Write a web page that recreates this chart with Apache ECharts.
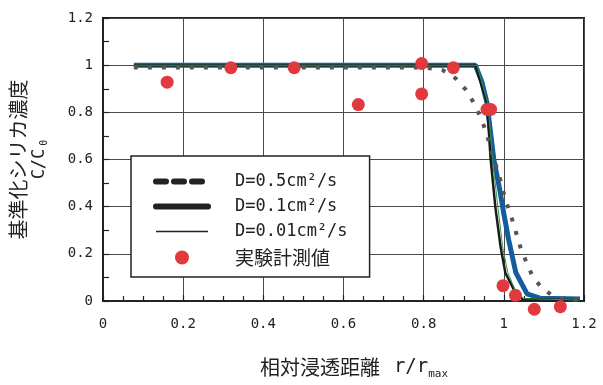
<!DOCTYPE html>
<html>
<head>
<meta charset="utf-8">
<script src="https://cdn.jsdelivr.net/npm/echarts@6/dist/echarts.min.js"></script>
<style>html,body{margin:0;padding:0;background:#fff}#c{width:603px;height:385px}</style>
</head>
<body>
<div id="c"></div>
<script>
// ---- data ----
const seriesNames = ['D=0.5cm²/s', 'D=0.1cm²/s', 'D=0.01cm²/s', '実験計測値'];

// D = 0.5 cm2/s (dotted gray)
const d05X = [0.077, 0.80, 0.847, 0.88, 0.905, 0.925, 0.942, 0.955, 0.97, 0.988, 1.004, 1.02, 1.041, 1.054, 1.07, 1.091, 1.12, 1.149, 1.19];
const d05Y = [0.99, 0.99, 0.979, 0.944, 0.896, 0.84, 0.778, 0.722, 0.63, 0.535, 0.43, 0.35, 0.23, 0.174, 0.111, 0.062, 0.024, 0.007, 0.005];

// D = 0.1 cm2/s (thick blue)
const d01X = [0.077, 0.929, 0.945, 0.958, 0.975, 0.99, 1.0, 1.012, 1.03, 1.058, 1.09, 1.19];
const d01Y = [1.0, 1.0, 0.93, 0.84, 0.60, 0.47, 0.37, 0.26, 0.12, 0.03, 0.012, 0.008];

// D = 0.01 cm2/s (thin black)
const d001X = [0.077, 0.929, 0.958, 0.967, 0.979, 0.992, 1.004, 1.029, 1.046, 1.19];
const d001Y = [1.0, 1.0, 0.84, 0.604, 0.396, 0.229, 0.118, 0.035, 0.008, 0.003];

// thin green companion line
const greenX = [0.077, 0.933, 0.96, 0.972, 0.985, 0.997, 1.01, 1.03, 1.05, 1.19];
const greenY = [1.0, 1.0, 0.84, 0.6, 0.4, 0.23, 0.12, 0.04, 0.01, 0.004];

// measured values (red dots)
const measX = [0.16, 0.319, 0.477, 0.637, 0.795, 0.795, 0.874, 0.958, 0.967, 0.998, 1.029, 1.076, 1.141];
const measY = [0.928, 0.989, 0.989, 0.833, 1.007, 0.878, 0.989, 0.8125, 0.8125, 0.065, 0.024, -0.035, -0.024];

const zip = (xs, ys) => xs.map((x, i) => [x, ys[i]]);

const MONO = "'DejaVu Sans Mono', 'Liberation Mono', monospace";
const CJK = "'Noto Sans CJK JP', 'Noto Sans', sans-serif";
const HIDE = {opacity: 0, color: 'rgba(0,0,0,0)', borderWidth: 0};

const chart = echarts.init(document.getElementById('c'), null, {renderer: 'canvas'});
chart.setOption({
  animation: false,
  backgroundColor: '#fff',
  textStyle: {fontFamily: CJK},
  grid: {left: 103, right: 19, top: 18, bottom: 81, show: true, borderColor: '#222', borderWidth: 2, backgroundColor: 'transparent'},
  legend: {
    orient: 'vertical', left: 131, top: 156,
    backgroundColor: '#fff', borderColor: '#222', borderWidth: 1.5,
    padding: [17, 22, 10, 22],
    itemWidth: 52, itemHeight: 14, itemGap: 8,
    selectedMode: false,
    formatter: n => n === '実験計測値' ? '{j|' + n + '}' : '{m|' + n + '}',
    textStyle: {
      padding: [0, 0, 0, 22],
      rich: {
        m: {fontFamily: MONO, fontSize: 17, lineHeight: 20, color: '#222'},
        j: {fontFamily: CJK, fontSize: 19, lineHeight: 20, color: '#222'}
      }
    },
    data: [
      {name: seriesNames[0], itemStyle: HIDE, lineStyle: {color: '#222', width: 6, type: [10, 8], cap: 'round'}},
      {name: seriesNames[1], itemStyle: HIDE, lineStyle: {color: '#222', width: 6, type: 'solid', cap: 'round'}},
      {name: seriesNames[2], itemStyle: HIDE, lineStyle: {color: '#222', width: 1.5, type: 'solid'}},
      {name: seriesNames[3], icon: 'circle', itemStyle: {color: '#e03a3e', opacity: 1}}
    ]
  },
  xAxis: {
    type: 'value', min: 0, max: 1.2, interval: 0.2,
    axisLine: {show: true, onZero: false, lineStyle: {color: '#222', width: 2}},
    axisTick: {show: true, inside: true, length: 6, lineStyle: {color: '#222', width: 1.2}},
    minorTick: {show: true, splitNumber: 4, length: 5, lineStyle: {color: '#222', width: 1.2}},
    splitLine: {show: true, lineStyle: {color: '#4a4a4a', width: 1}},
    axisLabel: {fontFamily: MONO, fontSize: 14, color: '#222', margin: 16},
    name: '{a|相対浸透距離}{b|r/r}{s|max}',
    nameLocation: 'middle', nameGap: 54,
    nameTextStyle: {
      rich: {
        a: {fontFamily: CJK, fontSize: 20, lineHeight: 24, color: '#222', padding: [0, 0, 0, 21]},
        b: {fontFamily: MONO, fontSize: 19, lineHeight: 24, color: '#222', padding: [0, 0, 0, 14]},
        s: {fontFamily: MONO, fontSize: 11, color: '#222', padding: [14, 0, 0, 0]}
      }
    }
  },
  yAxis: {
    type: 'value', min: 0, max: 1.2, interval: 0.2,
    axisLine: {show: true, onZero: false, lineStyle: {color: '#222', width: 2}},
    axisTick: {show: true, inside: true, length: 6, lineStyle: {color: '#222', width: 1.2}},
    minorTick: {show: true, splitNumber: 2, length: 6, lineStyle: {color: '#222', width: 1.2}},
    splitLine: {show: true, lineStyle: {color: '#4a4a4a', width: 1}},
    axisLabel: {fontFamily: MONO, fontSize: 14, color: '#222', margin: 10},
    name: '{a|基準化シリカ濃度}\n{b|C/C}{s|0}',
    nameLocation: 'middle', nameRotate: 90, nameGap: 53,
    nameTextStyle: {
      rich: {
        a: {fontFamily: CJK, fontSize: 20, lineHeight: 24, color: '#222'},
        b: {fontFamily: MONO, fontSize: 17, lineHeight: 20, color: '#222'},
        s: {fontFamily: MONO, fontSize: 10, color: '#222', padding: [9, 0, 0, 3]}
      }
    }
  },
  series: [
    {name: seriesNames[1], type: 'line', data: zip(d01X, d01Y), symbol: 'none', z: 2,
     lineStyle: {color: '#145c9b', width: 5}},
    {name: seriesNames[2], type: 'line', data: zip(d001X, d001Y), symbol: 'none', z: 3,
     lineStyle: {color: '#1a1a1a', width: 2.5}},
    {name: 'green', type: 'line', data: zip(greenX, greenY), symbol: 'none', z: 3,
     lineStyle: {color: '#2f9a4a', width: 1}},
    {name: seriesNames[0], type: 'line', data: zip(d05X, d05Y), symbol: 'none', z: 4,
     lineStyle: {color: '#555', width: 4, type: [4, 10]}},
    {name: seriesNames[3], type: 'scatter', data: zip(measX, measY), symbol: 'circle', symbolSize: 13, z: 5,
     clip: false, itemStyle: {color: '#e03a3e', opacity: 1}}
  ]
});
</script>
</body>
</html>
